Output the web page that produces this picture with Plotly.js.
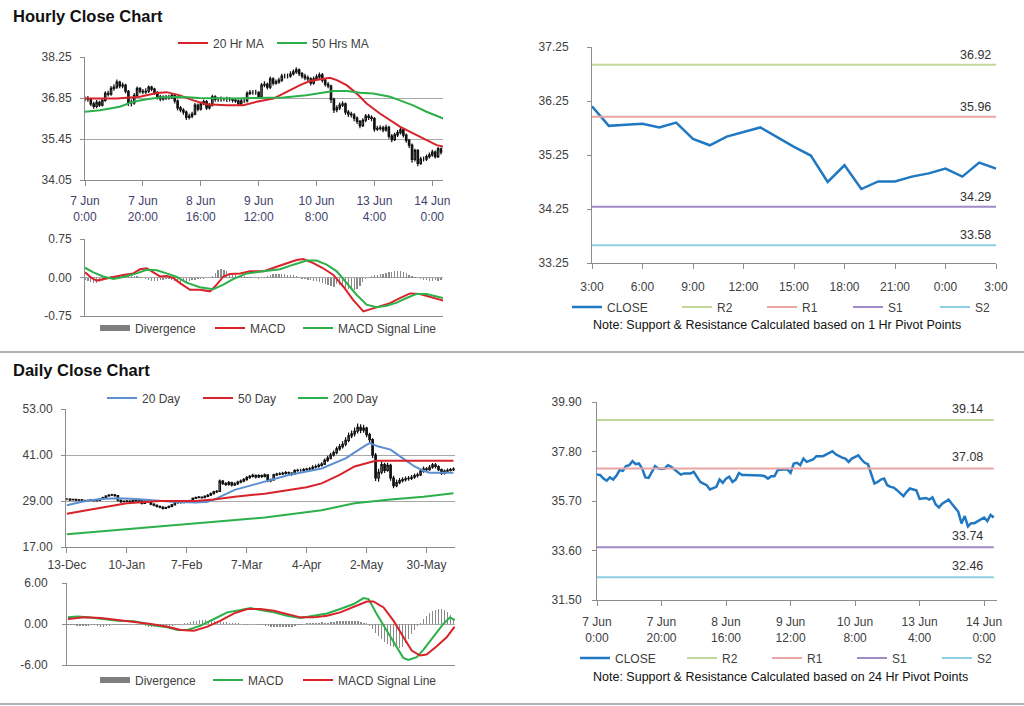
<!DOCTYPE html>
<html><head><meta charset="utf-8">
<script src="https://cdn.plot.ly/plotly-3.0.1.min.js"></script>
<style>html,body{margin:0;padding:0;background:#fff;}#chart{width:1024px;height:706px;}</style>
</head><body><div id="chart"></div>
<script>
// ================= DATA =================
// Hourly (7 Jun 0:00 .. 14 Jun 3:00), one value per trading hour
const hourlyTickIdx = [0, 20, 40, 60, 80, 100, 120];
const hourlyTickLabels = ['7 Jun<br>0:00','7 Jun<br>20:00','8 Jun<br>16:00','9 Jun<br>12:00','10 Jun<br>8:00','13 Jun<br>4:00','14 Jun<br>0:00'];
const hourlyClose = [
 36.82,36.80,36.65,36.56,36.70,36.61,36.77,37.01,36.98,37.18,
 37.22,37.39,37.26,37.29,37.08,36.70,36.68,36.94,37.18,37.08,
 37.06,37.08,37.22,37.15,37.04,36.89,36.82,36.87,36.87,36.87,
 36.94,36.75,36.51,36.44,36.37,36.19,36.23,36.30,36.61,36.47,
 36.65,36.73,36.51,36.61,36.89,36.80,36.80,36.80,36.80,36.80,
 36.80,36.78,36.75,36.65,36.75,36.75,37.01,37.04,37.04,37.04,
 36.89,37.29,37.32,37.22,37.50,37.36,37.40,37.46,37.60,37.60,
 37.60,37.67,37.74,37.81,37.68,37.60,37.54,37.50,37.36,37.50,
 37.57,37.64,37.46,37.32,37.26,36.80,36.44,36.51,36.61,36.65,
 36.37,36.30,36.27,36.16,36.05,35.91,36.09,36.23,36.19,36.15,
 35.79,35.81,35.83,35.76,35.85,35.55,35.43,35.59,35.67,35.76,
 35.58,35.40,35.24,34.75,35.06,34.62,34.76,34.76,34.85,34.91,
 35.00,34.85,35.11,35.00];
const hourlyHigh = [
 36.90,36.92,36.86,36.72,36.78,36.76,36.84,37.08,37.10,37.26,
 37.32,37.48,37.44,37.38,37.34,37.12,36.80,37.02,37.24,37.22,
 37.16,37.18,37.28,37.27,37.20,37.08,36.96,36.94,36.95,36.96,
 37.02,36.98,36.80,36.58,36.50,36.42,36.32,36.38,36.68,36.66,
 36.72,36.80,36.78,36.68,36.96,36.94,36.88,36.90,36.87,36.89,
 36.88,36.86,36.84,36.80,36.82,36.84,37.08,37.12,37.12,37.13,
 37.08,37.36,37.42,37.38,37.58,37.56,37.48,37.54,37.68,37.68,
 37.69,37.76,37.82,37.90,37.86,37.74,37.68,37.62,37.56,37.58,
 37.66,37.72,37.70,37.52,37.40,37.30,36.86,36.60,36.70,36.74,
 36.70,36.44,36.38,36.34,36.22,36.10,36.16,36.30,36.30,36.26,
 36.20,35.90,35.92,35.90,35.94,35.90,35.62,35.66,35.76,35.84,
 35.82,35.64,35.46,35.30,35.12,35.10,34.84,34.85,34.92,34.99,
 35.08,35.06,35.18,35.16];
const hourlyLow = [
 36.74,36.72,36.58,36.48,36.50,36.54,36.56,36.72,36.90,36.93,
 37.10,37.16,37.18,37.18,37.00,36.58,36.56,36.62,36.88,37.00,
 36.98,36.99,37.02,37.08,36.96,36.80,36.74,36.76,36.78,36.79,
 36.82,36.66,36.42,36.36,36.28,36.10,36.12,36.16,36.26,36.40,
 36.42,36.60,36.44,36.46,36.56,36.72,36.72,36.72,36.74,36.71,
 36.73,36.70,36.68,36.58,36.60,36.68,36.70,36.95,36.96,36.96,
 36.82,36.84,37.22,37.14,37.16,37.28,37.30,37.34,37.40,37.52,
 37.52,37.54,37.62,37.68,37.60,37.52,37.46,37.42,37.28,37.30,
 37.44,37.50,37.38,37.24,37.18,36.68,36.34,36.36,36.44,36.54,
 36.28,36.20,36.18,36.06,35.96,35.82,35.86,36.02,36.10,36.06,
 35.70,35.72,35.74,35.68,35.70,35.46,35.34,35.38,35.52,35.60,
 35.50,35.32,35.14,34.64,34.68,34.52,34.56,34.68,34.70,34.78,
 34.84,34.78,34.80,34.92];
const ma20hIdx = [0,10.9,19,24.8,28.2,32.8,37.4,42,48.9,54.7,59.3,65.1,69.7,74.3,77.7,82.3,84.6,87,90.4,93.9,97.3,101.9,105.4,108.8,113.4,118,121.5,123.8];
const ma20hVal = [36.83,36.83,36.89,37.02,37.05,36.94,36.77,36.64,36.60,36.60,36.72,36.83,37.06,37.29,37.43,37.50,37.54,37.46,37.29,37.00,36.66,36.32,36.09,35.87,35.64,35.41,35.24,35.19];
const ma50hIdx = [0,5.2,12,16.7,21.3,25.9,32.8,39.7,51.2,60.5,68.5,76.5,81.2,85.8,90.4,95,99.6,105.4,108.8,113.4,118,123.8];
const ma50hVal = [36.38,36.43,36.55,36.72,36.81,36.87,36.89,36.85,36.83,36.85,36.87,36.94,37.02,37.09,37.09,37.03,37.00,36.89,36.77,36.60,36.38,36.15];
const macdHIdx = [0,2.3,4,6.3,9.8,13.2,16.7,19,21.3,23.6,25.9,28.2,30.5,32.8,36.3,39.7,43.2,45.5,47.8,50.1,53.6,57,61.6,66.2,69.7,73.1,75.4,78.9,82.3,85.8,89.3,92.7,96.2,98.5,101.9,105.4,108.8,112.3,115.7,119.2,121.5,123.8];
const macdHVal = [0.10,-0.01,-0.06,-0.03,0.01,0.05,0.08,0.16,0.18,0.10,0.02,0.03,-0.01,-0.11,-0.24,-0.24,-0.27,-0.14,0.02,0.07,0.08,0.12,0.12,0.21,0.28,0.34,0.36,0.28,0.18,0.05,-0.18,-0.44,-0.66,-0.62,-0.55,-0.50,-0.40,-0.31,-0.32,-0.38,-0.42,-0.45];
const sigHIdx = [0,2.9,6.3,9.8,13.2,17.9,21.3,24.8,28.2,31.7,35.1,39.7,44.3,47.8,51.2,55.9,61.6,67.4,72,76.6,80,83.5,87,90.4,93.9,97.3,100.8,104.2,107.7,111.1,114.6,118,121.5,123.8];
const sigHVal = [0.19,0.10,0.02,-0.03,0.01,0.08,0.15,0.14,0.08,0.01,-0.10,-0.19,-0.23,-0.14,-0.03,0.08,0.12,0.16,0.25,0.33,0.33,0.25,0.12,-0.11,-0.34,-0.53,-0.58,-0.55,-0.49,-0.40,-0.32,-0.32,-0.36,-0.40];
const divH = [
 -0.05,-0.07,-0.09,-0.10,-0.10,-0.08,-0.06,
 -0.02,0.00,0.02,0.03,0.03,0.04,
 0.04,0.05,0.05,0.04,0.03,0.02,0.01,0.00,
 -0.02,-0.04,-0.06,-0.07,-0.06,-0.05,-0.04,-0.03,
 -0.03,-0.05,-0.07,-0.08,-0.10,-0.09,-0.08,-0.06,-0.05,-0.04,-0.03,-0.02,
 -0.02,-0.01,0.00,0.02,
 0.08,0.14,0.17,0.15,0.12,0.09,
 0.06,0.04,0.03,0.02,0.02,0.01,0.01,
 0.00,-0.01,-0.02,-0.01,0.01,
 0.03,0.05,0.06,0.06,0.07,0.06,0.06,0.05,0.05,0.04,
 0.02,0.00,-0.02,-0.03,-0.04,-0.05,-0.06,-0.07,
 -0.08,-0.10,-0.12,-0.14,-0.16,-0.18,
 -0.12,-0.15,-0.18,-0.20,-0.22,-0.24,-0.24,-0.22,
 -0.16,-0.08,-0.03,0.01,0.03,
 0.04,0.05,0.06,0.07,0.08,0.10,0.11,0.12,0.13,0.12,0.10,0.08,0.05,
 0.03,0.01,-0.01,-0.03,
 -0.04,-0.05,-0.06,-0.06,-0.05,-0.06,-0.05];

// Last 25 hourly closes (13 Jun 3:00 .. 14 Jun 3:00) with 1 Hr pivots
const pivot1hTickLabels = ['3:00','6:00','9:00','12:00','15:00','18:00','21:00','0:00','3:00'];
const pivotNames = ['R2','R1','S1','S2'];
const pivot1hLevels = [36.92, 35.96, 34.29, 33.58];
const pivot24hLevels = [39.14, 37.08, 33.74, 32.46];

// Daily (13-Dec .. mid Jun)
const dailyTickIdx = [0, 20, 40, 60, 80, 100, 120];
const dailyTickLabels = ['13-Dec','10-Jan','7-Feb','7-Mar','4-Apr','2-May','30-May'];
const dailyClose = [
 29.5,29.3,29.4,29.2,29.3,29.2,29.0,29.2,29.3,29.1,
 29.2,29.6,29.9,30.3,30.5,30.6,30.4,29.2,28.8,28.9,
 29.0,28.9,29.1,29.0,29.2,28.4,29.0,28.8,28.2,27.9,
 27.6,27.4,27.1,27.3,27.6,28.0,28.8,28.6,28.6,28.8,
 29.0,29.0,29.7,29.9,30.0,29.9,30.2,30.5,30.9,31.4,
 31.5,34.2,33.6,33.3,33.8,33.2,33.5,33.9,34.2,34.6,
 35.1,35.4,35.7,35.3,35.6,35.4,35.8,34.3,34.5,35.8,
 36.0,36.1,36.2,36.4,36.3,36.0,36.9,37.0,37.0,37.2,
 37.3,37.4,37.8,38.0,38.3,38.6,39.6,40.2,41.0,41.6,
 42.6,43.2,43.8,44.8,46.0,46.5,47.2,48.2,47.5,48.0,
 46.3,45.0,41.0,35.0,36.5,38.5,37.0,38.3,35.0,33.0,
 33.8,34.3,34.6,34.8,34.9,35.2,35.6,35.8,36.8,37.4,
 37.2,37.8,38.4,38.0,37.2,36.2,36.8,37.0,37.2,37.3];
const dailyHigh = [
 29.8,29.7,29.6,29.6,29.5,29.5,29.3,29.4,29.5,29.4,
 29.4,29.8,30.1,30.5,30.8,30.9,30.8,30.5,29.4,29.2,
 29.3,29.2,29.3,29.3,29.4,29.3,29.2,29.1,28.9,28.4,
 28.1,27.8,27.6,27.5,27.8,28.2,29.0,29.0,28.9,29.1,
 29.2,29.3,29.9,30.2,30.3,30.2,30.5,30.8,31.2,31.7,
 31.9,34.6,34.5,33.9,34.2,34.0,33.9,34.3,34.6,35.0,
 35.5,35.8,36.1,35.9,36.0,35.9,36.2,35.9,34.9,36.1,
 36.4,36.5,36.6,36.8,36.7,36.5,37.3,37.4,37.4,37.6,
 37.7,37.9,38.3,38.5,38.8,39.1,40.1,40.8,41.6,42.2,
 43.2,43.9,44.6,45.6,46.9,47.4,48.2,49.2,49.0,48.9,
 48.4,46.8,45.4,41.5,37.4,39.3,39.0,39.0,38.7,35.6,
 34.6,35.0,35.2,35.4,35.5,35.8,36.2,36.4,37.3,38.0,
 37.9,38.4,38.9,38.9,38.3,37.5,37.2,37.5,37.6,37.8];
const dailyLow = [
 29.2,29.0,29.1,29.0,29.0,29.0,28.8,28.9,29.0,28.9,
 28.9,29.0,29.4,29.7,30.1,30.3,30.1,28.9,28.5,28.6,
 28.7,28.6,28.7,28.8,28.8,28.1,28.2,28.5,27.9,27.6,
 27.3,27.1,26.8,26.9,27.1,27.4,27.8,28.3,28.3,28.4,
 28.6,28.7,28.8,29.5,29.7,29.6,29.7,30.0,30.3,30.7,
 31.1,31.4,33.2,32.9,33.0,32.8,32.9,33.2,33.6,33.9,
 34.3,34.8,35.1,34.9,35.0,35.0,35.1,33.9,33.9,34.3,
 35.5,35.7,35.8,35.9,35.9,35.6,35.8,36.6,36.6,36.7,
 36.9,37.0,37.1,37.5,37.7,38.0,38.4,39.2,39.8,40.6,
 41.2,42.1,42.7,43.3,44.3,45.4,45.8,46.6,46.7,46.8,
 45.6,44.2,40.2,34.2,34.0,36.0,36.3,36.6,34.3,32.3,
 32.6,33.4,33.8,34.1,34.3,34.5,34.8,35.1,35.5,36.4,
 36.7,36.9,37.4,37.5,36.8,35.8,35.9,36.5,36.7,36.8];
const ma20dIdx = [0,5,11,17,23,29,35,43,47,50,56,63,74,85,93,99,101,104,108,112,116,119,121,129];
const ma20dVal = [27.9,28.8,29.5,29.7,29.5,29.1,28.8,28.6,28.8,29.7,31.9,33.4,35.8,37.5,40.1,43.2,44.1,43.2,42.4,40.2,38.0,36.9,36.4,36.4];
const ma50dIdx = [0,9,20,31,43,49,56,66,74,80,85,91,96,101,103,129];
const ma50dVal = [25.7,27.0,28.4,29.0,29.0,29.4,30.1,30.9,31.9,32.6,33.6,35.8,38.0,39.1,39.5,39.5];
const ma200dIdx = [0,31,66,85,96,108,119,129];
const ma200dVal = [20.3,22.3,24.7,26.6,28.4,29.4,30.1,31.0];
const macdDIdx = [0,3.3,6.7,11.1,16.7,22.2,27.8,33.3,36.7,40,44.4,48.9,53.3,57.8,61.1,64.4,68.9,73.3,77.8,82.2,86.7,91.1,95.6,98.9,100.6,103.3,106.7,110,112.2,113.9,116.7,118.9,122.2,125.6,127.8,129.4];
const macdDVal = [0.97,1.10,0.97,0.73,0.49,0.39,-0.15,-0.49,-0.87,-0.87,-0.24,0.73,1.70,2.04,2.33,2.04,1.70,1.21,0.87,1.21,1.55,2.19,2.92,3.79,3.64,1.46,-0.97,-3.40,-4.96,-5.25,-4.86,-3.79,-1.94,0.00,0.97,0.58];
const sigDIdx = [0,5.6,11.1,16.7,22.2,27.8,33.3,37.8,42.2,46.7,51.1,55.6,60,64.4,68.9,73.3,77.8,82.2,86.7,91.1,95.6,100,102.2,105.6,108.9,112.2,115,117.8,120,123.3,126.7,129.4];
const sigDVal = [0.73,0.97,0.87,0.58,0.39,0.00,-0.39,-0.87,-0.97,-0.39,0.49,1.55,2.19,2.19,1.94,1.46,0.97,0.97,1.21,1.70,2.53,3.30,3.30,2.43,0.49,-1.94,-3.89,-4.62,-4.47,-3.30,-1.94,-0.39];
const divD = [
 -0.1,-0.2,-0.2,-0.3,-0.3,-0.3,-0.3,-0.3,-0.2,-0.2,-0.3,-0.4,-0.4,-0.3,-0.3,-0.2,-0.2,-0.2,-0.1,-0.1,-0.1,-0.1,0.0,-0.1,-0.1,
 -0.2,-0.3,-0.4,-0.5,-0.5,-0.5,-0.4,-0.4,-0.3,-0.3,-0.3,-0.2,-0.1,0.0,0.1,0.2,
 0.3,0.4,0.5,0.6,0.6,0.6,0.5,0.5,0.4,0.4,0.3,0.3,0.3,0.2,0.2,
 0.1,0.1,0.0,-0.1,-0.1,0.0,0.0,-0.1,-0.2,-0.2,-0.3,
 -0.3,-0.4,-0.5,-0.5,-0.5,-0.5,-0.5,-0.4,-0.4,-0.3,-0.2,-0.1,0.0,0.1,
 0.1,0.2,0.2,0.2,0.3,0.2,0.2,0.3,0.3,0.4,0.5,0.5,0.5,0.4,0.4,0.5,0.4,0.3,0.2,0.1,
 -0.3,-0.8,-1.3,-1.8,-2.2,-2.6,-2.9,-3.2,-3.4,-3.5,-3.5,-3.3,-2.8,-2.2,-1.5,-0.9,-0.3,
 0.2,0.7,1.2,1.6,1.9,2.1,2.2,2.2,2.1,1.8,1.3,0.8];

// ================= STYLE / LAYOUT =================
const W = 1024, H = 706;
const FONT = 'Liberation Sans, Arial, sans-serif';
const fx = p => p / W, fy = p => 1 - p / H;
const RED = '#d8232a', GREEN = '#2bb04a', BLUE20 = '#5b8fd2', GREY = '#8c8c8c', CLOSEC = '#1f78c1';
const pivotColors = ['#c3d69b', '#eaa5a5', '#a08ac8', '#8ccfe4'];
const tickFont = {family: FONT, size: 12, color: '#404040'};

function yAx(y0, y1, anchor, range, vals, dec, grid, standoff) {
  return {domain: [fy(y1), fy(y0)], anchor, range, tickvals: vals, ticktext: vals.map(v => v.toFixed(dec)),
    showgrid: grid, gridcolor: '#a8a8a8', gridwidth: 1, zeroline: false, showline: true, linecolor: GREY, linewidth: 1,
    ticks: 'outside', ticklen: 4, tickcolor: GREY, tickfont: tickFont, ticklabelstandoff: standoff, fixedrange: true};
}
function xAx(x0, x1, anchor, range, vals, text, showLabels, standoff, color) {
  return {domain: [fx(x0), fx(x1)], anchor, range, tickvals: vals, ticktext: text, showticklabels: showLabels,
    showgrid: false, zeroline: false, showline: true, linecolor: GREY, linewidth: 1,
    ticks: showLabels ? 'outside' : '', ticklen: 5, tickcolor: GREY, ticklabelstandoff: standoff || 0,
    tickfont: Object.assign({}, tickFont, color ? {color} : {}), tickangle: 0, fixedrange: true, rangeslider: {visible: false}};
}

const legends = {};
let nLeg = 0;
function legAt(px, py) {
  nLeg++;
  const key = nLeg === 1 ? 'legend' : 'legend' + nLeg;
  legends[key] = {x: fx(px - 5), y: fy(py), xanchor: 'left', yanchor: 'middle', orientation: 'h',
    bgcolor: 'rgba(0,0,0,0)', borderwidth: 0, font: {family: FONT, size: 12, color: '#404040'}, itemwidth: 30};
  return key;
}

function candle(close, high, low, xa, ya) {
  const idx = close.map((_, i) => i);
  const open = close.map((c, i) => i ? close[i - 1] : c);
  return {type: 'candlestick', x: idx, open, close, high, low,
    xaxis: xa, yaxis: ya, whiskerwidth: 0,
    increasing: {line: {color: '#111', width: 1.2}, fillcolor: '#ffffff'},
    decreasing: {line: {color: '#111', width: 1.2}, fillcolor: '#111'},
    showlegend: false, hoverinfo: 'skip'};
}
function line(x, y, xa, ya, color, width, name, lx, ly) {
  const t = {type: 'scatter', mode: 'lines', x, y, xaxis: xa, yaxis: ya, line: {color, width}, hoverinfo: 'skip', name};
  if (name) { t.legend = legAt(lx, ly); t.showlegend = true; } else t.showlegend = false;
  return t;
}
function divBars(vals, xa, ya, lx, ly) {
  return [
    {type: 'bar', x: vals.map((_, i) => i), y: vals, xaxis: xa, yaxis: ya, width: 0.45,
     marker: {color: '#8a8a8a', line: {width: 0}}, showlegend: false, hoverinfo: 'skip'},
    {type: 'scatter', mode: 'lines', x: [null], y: [null], xaxis: xa, yaxis: ya, name: 'Divergence',
     line: {color: '#7f7f7f', width: 6}, legend: legAt(lx, ly), showlegend: true, hoverinfo: 'skip'}
  ];
}

const traces = [];
// Panel 1: hourly candles
traces.push(candle(hourlyClose, hourlyHigh, hourlyLow, 'x', 'y'));
traces.push(line(ma20hIdx, ma20hVal, 'x', 'y', RED, 2, '20 Hr MA', 178, 43));
traces.push(line(ma50hIdx, ma50hVal, 'x', 'y', GREEN, 2, '50 Hrs MA', 277, 43));
// Panel 2: hourly MACD
traces.push(...divBars(divH, 'x2', 'y2', 100, 328));
traces.push(line(macdHIdx, macdHVal, 'x2', 'y2', RED, 2, 'MACD', 215, 328));
traces.push(line(sigHIdx, sigHVal, 'x2', 'y2', GREEN, 2, 'MACD Signal Line', 303, 328));
// Panel 3: last 25 hours with 1 Hr pivots
const last25 = hourlyClose.slice(hourlyClose.length - 25);
const idx25 = last25.map((_, i) => i);
traces.push(line(idx25, last25, 'x3', 'y3', CLOSEC, 2.5, 'CLOSE', 572, 307));
const p3lx = [682, 767, 853, 940];
pivotNames.forEach((n, k) => traces.push(line([0, last25.length - 1], [pivot1hLevels[k], pivot1hLevels[k]], 'x3', 'y3', pivotColors[k], 2, n, p3lx[k], 307)));
// Panel 4: daily candles
traces.push(candle(dailyClose, dailyHigh, dailyLow, 'x4', 'y4'));
traces.push(line(ma20dIdx, ma20dVal, 'x4', 'y4', BLUE20, 2, '20 Day', 107, 398));
traces.push(line(ma50dIdx, ma50dVal, 'x4', 'y4', RED, 2, '50 Day', 203, 398));
traces.push(line(ma200dIdx, ma200dVal, 'x4', 'y4', GREEN, 2, '200 Day', 298, 398));
// Panel 5: daily MACD
traces.push(...divBars(divD, 'x5', 'y5', 100, 680));
traces.push(line(macdDIdx, macdDVal, 'x5', 'y5', GREEN, 2, 'MACD', 213, 680));
traces.push(line(sigDIdx, sigDVal, 'x5', 'y5', RED, 2, 'MACD Signal Line', 303, 680));
// Panel 6: hourly close with 24 Hr pivots
const idxAll = hourlyClose.map((_, i) => i);
traces.push(line(idxAll, hourlyClose, 'x6', 'y6', CLOSEC, 2.5, 'CLOSE', 580, 658));
const p6lx = [687, 772, 857, 942];
pivotNames.forEach((n, k) => traces.push(line([0, hourlyClose.length - 1], [pivot24hLevels[k], pivot24hLevels[k]], 'x6', 'y6', pivotColors[k], 2, n, p6lx[k], 658)));

const annotations = [];
function txt(text, px, py, size, bold, xanchor) {
  annotations.push({xref: 'paper', yref: 'paper', x: fx(px), y: fy(py), xanchor: xanchor || 'left', yanchor: 'middle',
    text: bold ? '<b>' + text + '</b>' : text, showarrow: false, font: {family: FONT, size, color: '#111'}});
}
txt('Hourly Close Chart', 11, 16, 16.5, true);
txt('Daily Close Chart', 11, 370, 16.5, true);
txt('Note: Support &amp; Resistance Calculated based on 1 Hr Pivot Points', 777, 325, 12.5, false, 'center');
txt('Note: Support &amp; Resistance Calculated based on 24 Hr Pivot Points', 780, 677, 12.5, false, 'center');
pivot1hLevels.forEach(v => annotations.push({xref: 'paper', yref: 'y3', x: fx(993), y: v, xanchor: 'right', yanchor: 'bottom',
  yshift: 1, text: v.toFixed(2), showarrow: false, font: {family: FONT, size: 12.5, color: '#333'}}));
pivot24hLevels.forEach(v => annotations.push({xref: 'paper', yref: 'y6', x: fx(985), y: v, xanchor: 'right', yanchor: 'bottom',
  yshift: 2, text: v.toFixed(2), showarrow: false, font: {family: FONT, size: 12.5, color: '#333'}}));

const layout = Object.assign({
  width: W, height: H, margin: {l: 0, r: 0, t: 0, b: 0}, paper_bgcolor: '#fff', plot_bgcolor: 'rgba(0,0,0,0)',
  font: {family: FONT, size: 12, color: '#404040'}, bargap: 0, hovermode: false,
  xaxis: xAx(85, 443, 'y', [0, 123.7], hourlyTickIdx, hourlyTickLabels, true, 5, '#3f3f6c'),
  yaxis: yAx(57, 180, 'x', [34.05, 38.25], [34.05, 35.45, 36.85, 38.25], 2, true, 6),
  xaxis2: xAx(85, 443, 'y2', [0, 123.7], [], [], false),
  yaxis2: yAx(239, 316, 'x2', [-0.75, 0.75], [-0.75, 0, 0.75], 2, true, 6),
  xaxis3: xAx(592, 996, 'y3', [0, 24], pivot1hTickLabels.map((_, i) => i * 3), pivot1hTickLabels, true, 8),
  yaxis3: yAx(47, 263, 'x3', [33.25, 37.25], [33.25, 34.25, 35.25, 36.25, 37.25], 2, false, 16),
  xaxis4: xAx(66, 455, 'y4', [-0.3, 129.5], dailyTickIdx, dailyTickLabels, true, 2),
  yaxis4: yAx(409, 547, 'x4', [17, 53], [17, 29, 41, 53], 2, true, 6),
  xaxis5: xAx(67, 455, 'y5', [-0.3, 129.5], [], [], false),
  yaxis5: yAx(583, 665, 'x5', [-6, 6], [-6, 0, 6], 2, true, 12),
  xaxis6: xAx(597, 997, 'y6', [0, 124], hourlyTickIdx, hourlyTickLabels, true, 6),
  yaxis6: yAx(402, 600, 'x6', [31.5, 39.9], [31.5, 33.6, 35.7, 37.8, 39.9], 2, false, 8),
  annotations,
  shapes: [
    {type: 'line', xref: 'paper', yref: 'paper', x0: 0, x1: 1, y0: fy(352), y1: fy(352), line: {color: '#9a9a9a', width: 1.5}},
    {type: 'line', xref: 'paper', yref: 'paper', x0: 0, x1: 1, y0: fy(704), y1: fy(704), line: {color: '#9a9a9a', width: 1.5}}
  ]
}, legends);

Plotly.newPlot('chart', traces, layout, {displayModeBar: false, staticPlot: true});
</script></body></html>
